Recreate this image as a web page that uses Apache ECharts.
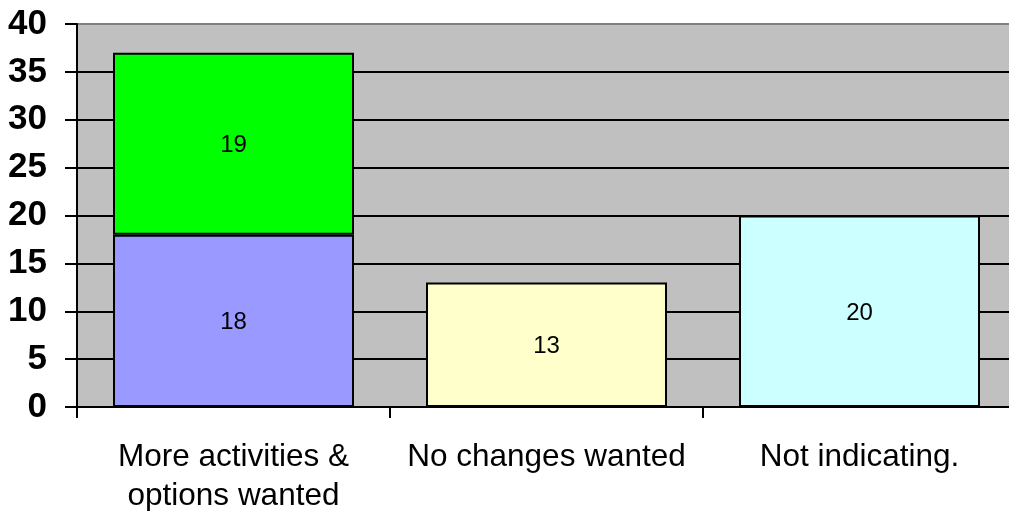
<!DOCTYPE html>
<html>
<head>
<meta charset="utf-8">
<script src="https://cdn.jsdelivr.net/npm/echarts@6/dist/echarts.min.js"></script>
<style>
html,body{margin:0;padding:0;background:#fff;overflow:hidden;}
#c{width:1009px;height:511px;}
</style>
</head>
<body>
<div id="c"></div>
<script>
const categories = ['More activities &\noptions wanted', 'No changes wanted', 'Not indicating.'];
const baseValues = [18, 13, 20];
const topValues = [19, '-', '-'];
const baseColors = ['#9999FF', '#FFFFCC', '#CCFFFF'];
const topColor = '#00FF00';
const yTicks = [0, 5, 10, 15, 20, 25, 30, 35, 40];

const FONT = 'Arial, "Liberation Sans", sans-serif';
const chart = echarts.init(document.getElementById('c'), null, {renderer: 'canvas'});
chart.setOption({
  animation: false,
  backgroundColor: '#ffffff',
  grid: {
    left: 77, top: 24, bottom: 104, right: -7,
    outerBoundsMode: 'none', containLabel: false,
    show: true, backgroundColor: '#C0C0C0', borderColor: '#808080', borderWidth: 2
  },
  xAxis: {
    type: 'category',
    data: categories,
    axisLine: {lineStyle: {color: '#000', width: 2}},
    axisTick: {show: true, length: 11, lineStyle: {color: '#000', width: 2}},
    axisLabel: {
      color: '#000', fontFamily: FONT, fontSize: 31.5, lineHeight: 39, margin: 31, interval: 0
    },
    splitLine: {show: false}
  },
  yAxis: {
    type: 'value',
    min: yTicks[0], max: yTicks[yTicks.length - 1], interval: 5,
    axisLine: {show: true, lineStyle: {color: '#000', width: 2}},
    axisTick: {show: true, length: 12, lineStyle: {color: '#000', width: 2}},
    axisLabel: {color: '#000', fontFamily: FONT, fontSize: 35, fontWeight: 'bold', margin: 30},
    splitLine: {show: true, showMaxLine: false, lineStyle: {color: '#000', width: 2}}
  },
  series: [
    {
      type: 'bar', stack: 's', barWidth: 241,
      data: baseValues.map((v, i) => ({value: v, itemStyle: {color: baseColors[i]}})),
      itemStyle: {borderColor: '#000', borderWidth: 2},
      label: {show: true, position: 'inside', offset: [0, 2], color: '#000', fontFamily: FONT, fontSize: 24}
    },
    {
      type: 'bar', stack: 's', barWidth: 241,
      data: topValues,
      itemStyle: {color: topColor, borderColor: '#000', borderWidth: 2},
      label: {show: true, position: 'inside', offset: [0, 2], color: '#000', fontFamily: FONT, fontSize: 24}
    }
  ]
});
</script>
</body>
</html>
